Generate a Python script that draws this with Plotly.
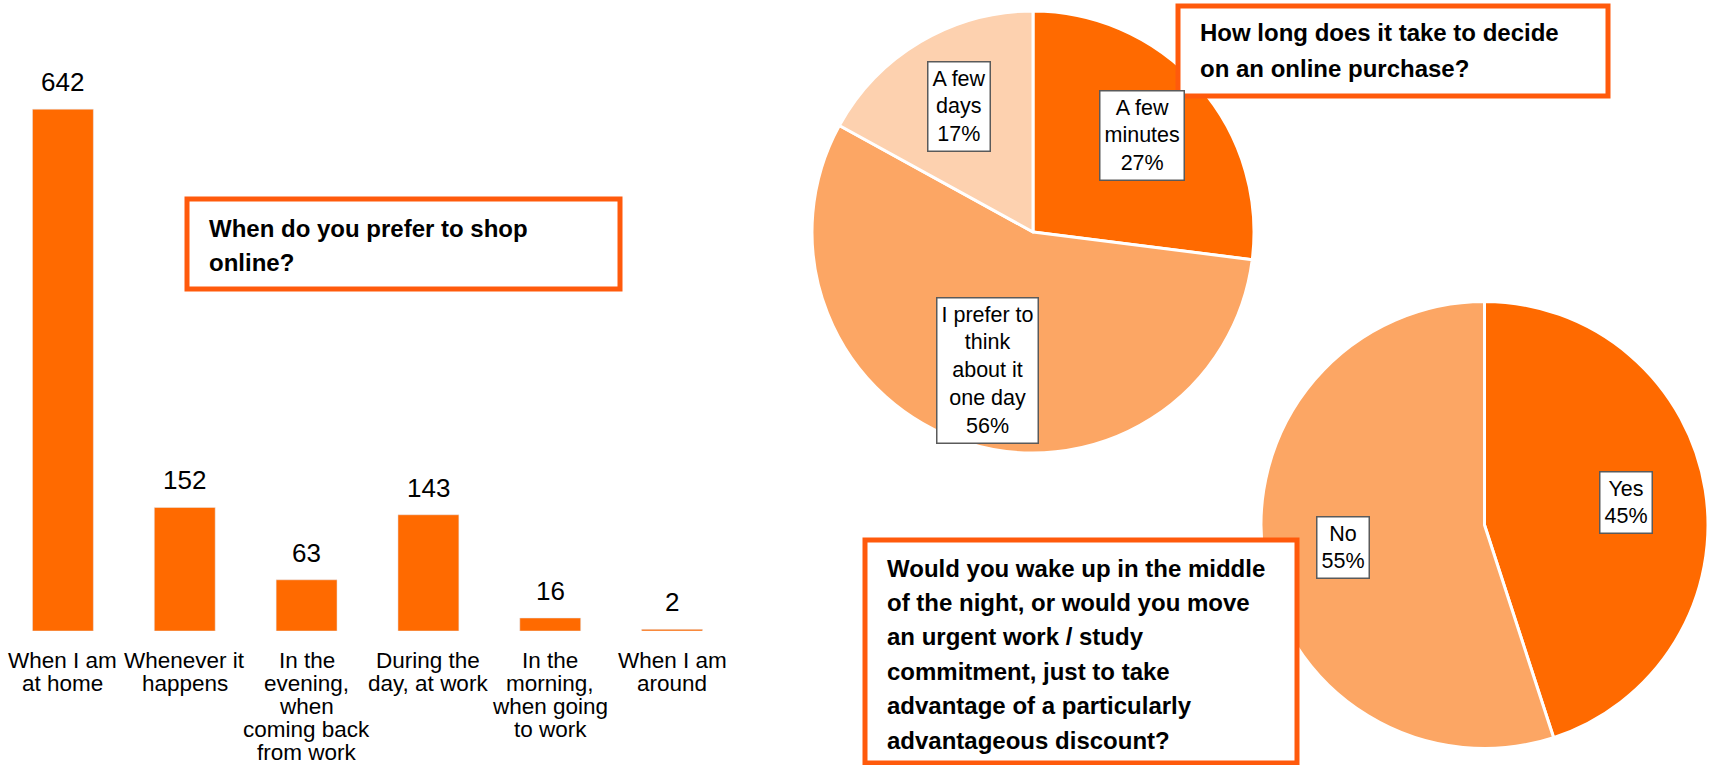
import math
import plotly.graph_objects as go

W, H = 1709, 765
FONT = "Liberation Sans, Arial, sans-serif"

# ---- data -------------------------------------------------------------
shop_categories = [
    "When I am at home",
    "Whenever it happens",
    "In the evening, when coming back from work",
    "During the day, at work",
    "In the morning, when going to work",
    "When I am around",
]
shop_tick_lines = [
    ["When I am", "at home"],
    ["Whenever it", "happens"],
    ["In the", "evening,", "when", "coming back", "from work"],
    ["During the", "day, at work"],
    ["In the", "morning,", "when going", "to work"],
    ["When I am", "around"],
]
shop_counts = [642, 152, 63, 143, 16, 2]

decide_labels = ["A few minutes", "I prefer to think about it one day", "A few days"]
decide_text = ["A few<br>minutes", "I prefer to<br>think<br>about it<br>one day", "A few<br>days"]
decide_pct = [27, 56, 17]

wake_labels = ["Yes", "No"]
wake_text = ["Yes", "No"]
wake_pct = [45, 55]

q_shop = ["When do you prefer to shop", "online?"]
q_decide = ["How long does it take to decide", "on an online purchase?"]
q_wake = [
    "Would you wake up in the middle",
    "of the night, or would you move",
    "an urgent work / study",
    "commitment, just to take",
    "advantage of a particularly",
    "advantageous discount?",
]

# ---- colours ----------------------------------------------------------
DARK = "#FF6A00"
MID = "#FCA664"
LIGHT = "#FDD1AF"
BOX_EDGE = "#FF5A0C"


def px_x(x):
    return x / W


def px_y(y):
    return 1 - y / H


fig = go.Figure()

# ---- bar chart ---------------------------------------------------------
fig.add_trace(go.Bar(
    x=shop_categories, y=shop_counts, marker_color=DARK, width=0.5,
    xaxis="x", yaxis="y", showlegend=False, hoverinfo="x+y",
))

annotations = []
for cat, val, lines in zip(shop_categories, shop_counts, shop_tick_lines):
    annotations.append(dict(
        x=cat, y=val, xref="x", yref="y", text=str(val), showarrow=False,
        yanchor="middle", yshift=27, font=dict(family=FONT, size=26, color="#000"),
    ))
    for i, line in enumerate(lines):
        annotations.append(dict(
            x=cat, y=0, xref="x", yref="y", text=line, showarrow=False,
            yanchor="middle", yshift=-(29 + 23 * i),
            font=dict(family=FONT, size=22.5, color="#000"),
        ))

# ---- pies --------------------------------------------------------------
def add_pie(labels, values, colors, cx, cy, r):
    fig.add_trace(go.Pie(
        labels=labels, values=values, sort=False, direction="clockwise", rotation=0,
        marker=dict(colors=colors, line=dict(color="white", width=3)),
        textinfo="none", showlegend=False,
        domain=dict(x=[px_x(cx - r), px_x(cx + r)], y=[px_y(cy + r), px_y(cy - r)]),
    ))


def pie_label_boxes(texts, values, cx, cy, r, frac):
    total = sum(values)
    start = 0.0
    for txt, v in zip(texts, values):
        mid = (start + v / 2) / total * 2 * math.pi
        start += v
        lx = cx + frac * r * math.sin(mid)
        ly = cy - frac * r * math.cos(mid)
        annotations.append(dict(
            x=px_x(lx), y=px_y(ly), xref="paper", yref="paper",
            text=f"{txt}<br>{v}%", showarrow=False, align="center",
            xanchor="center", yanchor="middle",
            bgcolor="white", bordercolor="#5A5A5A", borderwidth=1.5, borderpad=4,
            font=dict(family=FONT, size=21.5, color="#000"),
        ))


P1 = (1033, 232, 221)
P2 = (1484.5, 525, 223.5)
add_pie(decide_labels, decide_pct, [DARK, MID, LIGHT], *P1)
add_pie(wake_labels, wake_pct, [DARK, MID], *P2)
pie_label_boxes(decide_text, decide_pct, *P1, frac=0.66)
pie_label_boxes(wake_text, wake_pct, *P2, frac=0.64)

# ---- question boxes ---------------------------------------------------
shapes = []


def question_box(lines, x0, y0, x1, y1, tx, ty0, step):
    shapes.append(dict(
        type="rect", xref="paper", yref="paper",
        x0=px_x(x0), x1=px_x(x1), y0=px_y(y1), y1=px_y(y0),
        line=dict(color=BOX_EDGE, width=5), fillcolor="white", layer="above",
    ))
    for i, line in enumerate(lines):
        annotations.append(dict(
            x=px_x(tx), y=px_y(ty0 + i * step), xref="paper", yref="paper",
            text=f"<b>{line}</b>", showarrow=False, xanchor="left", yanchor="middle",
            font=dict(family=FONT, size=24, color="#000"),
        ))


question_box(q_shop, 187, 199, 620, 289, 207, 228, 34)
question_box(q_decide, 1178, 6, 1608, 96, 1198, 33, 35)
question_box(q_wake, 865, 540, 1297, 763, 885, 568, 34.4)

fig.update_layout(
    width=W, height=H,
    margin=dict(l=0, r=0, t=0, b=0),
    paper_bgcolor="white", plot_bgcolor="white",
    xaxis=dict(domain=[px_x(2), px_x(733)], showticklabels=False, showgrid=False,
               zeroline=False, showline=False, ticks=""),
    yaxis=dict(domain=[px_y(631), px_y(62)], range=[0, 700], showticklabels=False,
               showgrid=False, zeroline=False, showline=False, ticks=""),
    shapes=shapes,
    annotations=annotations,
    bargap=0.5,
)

fig.write_html("out.html")
